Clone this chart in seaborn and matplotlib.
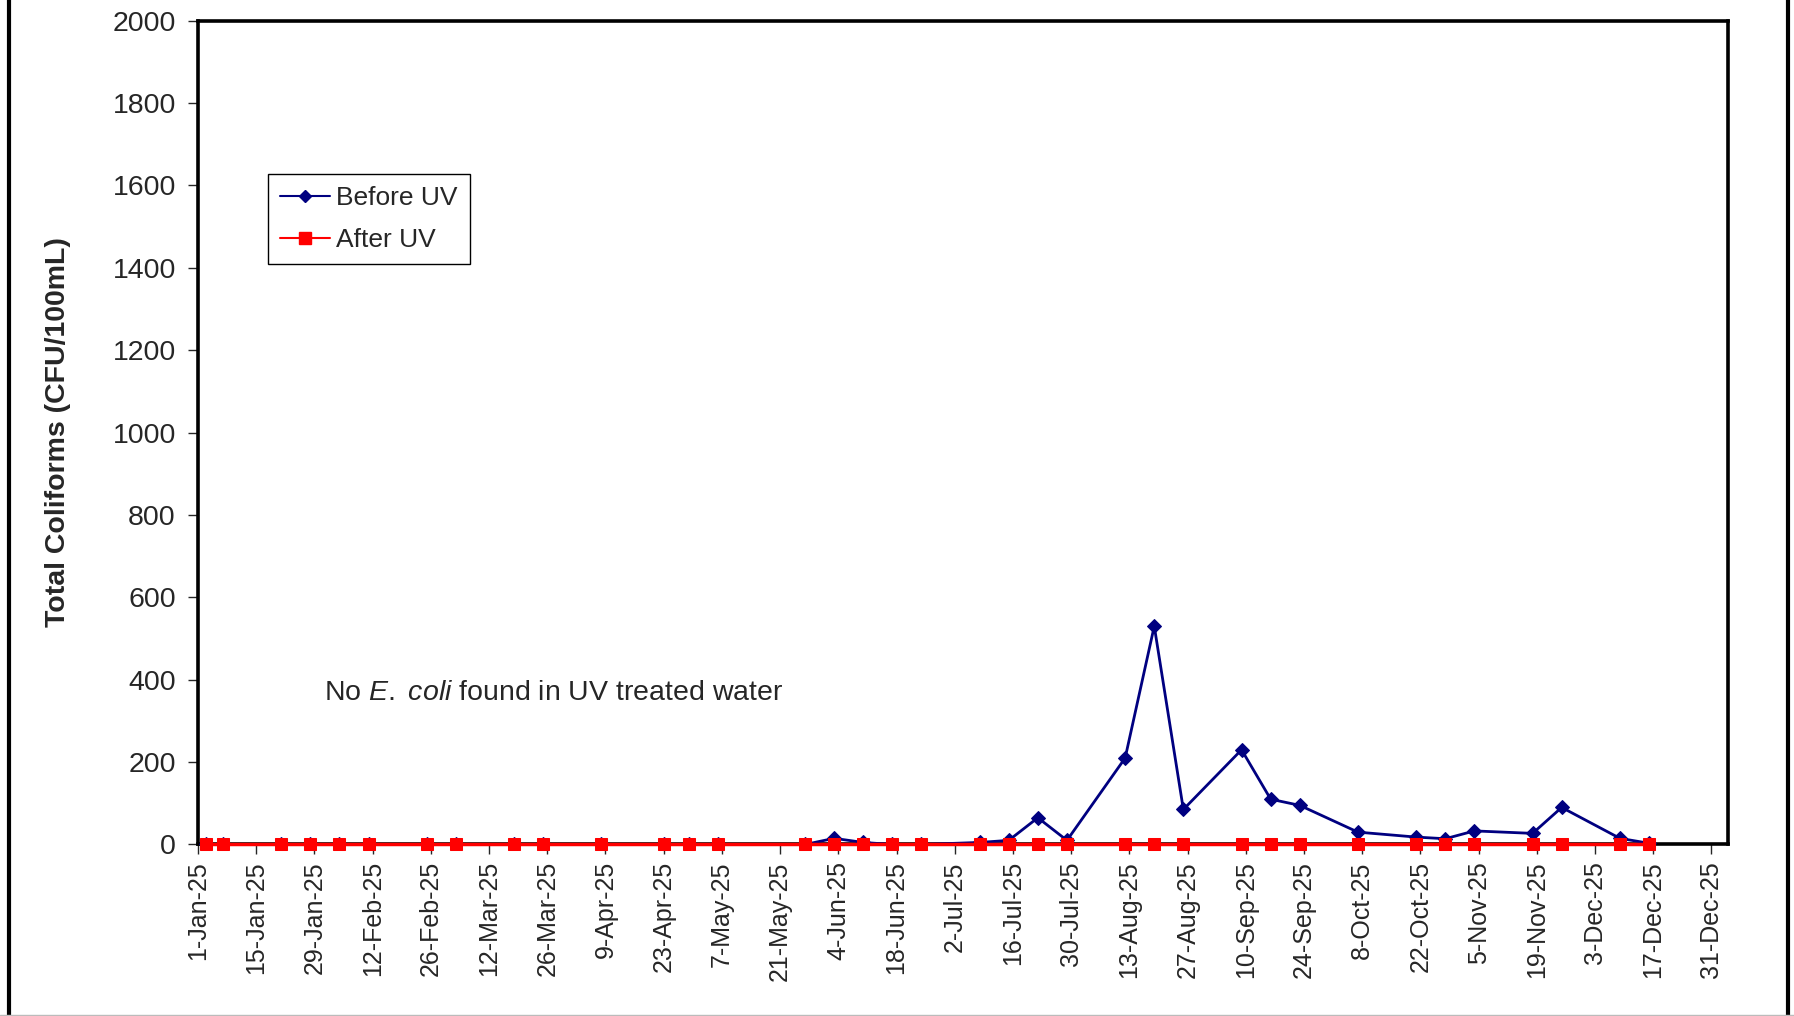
import pandas as pd
import matplotlib.pyplot as plt
from matplotlib.lines import Line2D
import seaborn as sns

# sample dates (weekly-ish, 2025)
sample_dates = ['2025-01-03', '2025-01-07', '2025-01-21', '2025-01-28', '2025-02-04',
                '2025-02-11', '2025-02-25', '2025-03-04', '2025-03-18', '2025-03-25',
                '2025-04-08', '2025-04-23', '2025-04-29', '2025-05-06', '2025-05-27',
                '2025-06-03', '2025-06-10', '2025-06-17', '2025-06-24', '2025-07-08',
                '2025-07-15', '2025-07-22', '2025-07-29', '2025-08-12', '2025-08-19',
                '2025-08-26', '2025-09-09', '2025-09-16', '2025-09-23', '2025-10-07',
                '2025-10-21', '2025-10-28', '2025-11-04', '2025-11-18', '2025-11-25',
                '2025-12-09', '2025-12-16']

before_uv = [0, 0, 0, 0, 0, 0, 0, 0, 0, 0,
             0, 0, 0, 0, 0, 15, 5, 0, 0, 5,
             10, 65, 10, 210, 530, 85, 230, 110, 95, 30,
             18, 14, 33, 27, 90, 15, 3]

after_uv = [0] * len(sample_dates)

tick_labels = ['1-Jan-25', '15-Jan-25', '29-Jan-25', '12-Feb-25', '26-Feb-25', '12-Mar-25',
               '26-Mar-25', '9-Apr-25', '23-Apr-25', '7-May-25', '21-May-25', '4-Jun-25',
               '18-Jun-25', '2-Jul-25', '16-Jul-25', '30-Jul-25', '13-Aug-25', '27-Aug-25',
               '10-Sep-25', '24-Sep-25', '8-Oct-25', '22-Oct-25', '5-Nov-25', '19-Nov-25',
               '3-Dec-25', '17-Dec-25', '31-Dec-25']

df = pd.DataFrame({'Date': pd.to_datetime(sample_dates),
                   'Before UV': before_uv,
                   'After UV': after_uv})
tick_dates = pd.to_datetime(tick_labels, format='%d-%b-%y')

sns.set_style('white')
plt.rcParams['font.family'] = ['Liberation Sans', 'DejaVu Sans']
plt.rcParams['mathtext.fontset'] = 'custom'
plt.rcParams['mathtext.it'] = 'Liberation Sans:italic'
plt.rcParams['mathtext.rm'] = 'Liberation Sans'

FS = 20.5

fig = plt.figure(figsize=(17.94, 10.16), dpi=100)
ax = fig.add_axes([0.1104, 0.1688, 0.8528, 0.8109])

sns.lineplot(data=df, x='Date', y='Before UV', ax=ax, color='#000080', marker='D',
             markersize=7.5, markeredgecolor='#000080', linewidth=2, label='Before UV', zorder=3)
sns.lineplot(data=df, x='Date', y='After UV', ax=ax, color='#ff0000', marker='s',
             markersize=8, markeredgecolor='#ff0000', linewidth=2.5, label='After UV', zorder=4,
             clip_on=False)

ax.set_xlim(pd.Timestamp('2025-01-01'), pd.Timestamp('2026-01-04'))
ax.set_ylim(0, 2000)
ax.set_yticks(range(0, 2001, 200))
ax.set_xticks(tick_dates)
ax.set_xticklabels(tick_labels, rotation=90, fontsize=18)
ax.tick_params(axis='y', labelsize=FS, direction='out', length=7, width=1, pad=9, left=True)
ax.tick_params(axis='x', direction='out', length=7, width=1, pad=5, bottom=True)

for s in ax.spines.values():
    s.set_visible(True)
    s.set_color('black')
    s.set_linewidth(2.6)

ax.set_xlabel('')
ax.set_ylabel('Total Coliforms (CFU/100mL)', fontsize=FS, fontweight='bold')
ax.yaxis.set_label_coords(-0.083, 0.5)

handles = [Line2D([], [], color='#000080', marker='D', markersize=6, linewidth=1.5),
           Line2D([], [], color='#ff0000', marker='s', markersize=8, linewidth=1.5)]
leg = ax.legend(handles, ['Before UV', 'After UV'], loc='upper left',
                bbox_to_anchor=(0.0456, 0.8138), fontsize=19, frameon=True, fancybox=False,
                edgecolor='black', framealpha=1, handlelength=1.9, handletextpad=0.25,
                labelspacing=0.7, borderpad=0.45, borderaxespad=0)
leg.get_frame().set_linewidth(1)

ax.text(0.0824, 0.184, r'No $\mathit{E.}$ $\mathit{coli}$ found in UV treated water',
        transform=ax.transAxes, fontsize=FS, va='center', ha='left')

# outer frame of the picture
fig.add_artist(Line2D([0.0052, 0.0052], [0, 1], transform=fig.transFigure, color='black', linewidth=3))
fig.add_artist(Line2D([0.9965, 0.9965], [0, 1], transform=fig.transFigure, color='black', linewidth=3))
fig.add_artist(Line2D([0, 1], [0.001, 0.001], transform=fig.transFigure, color='#bbbbbb', linewidth=1))

fig.savefig('out.png', dpi=100)
